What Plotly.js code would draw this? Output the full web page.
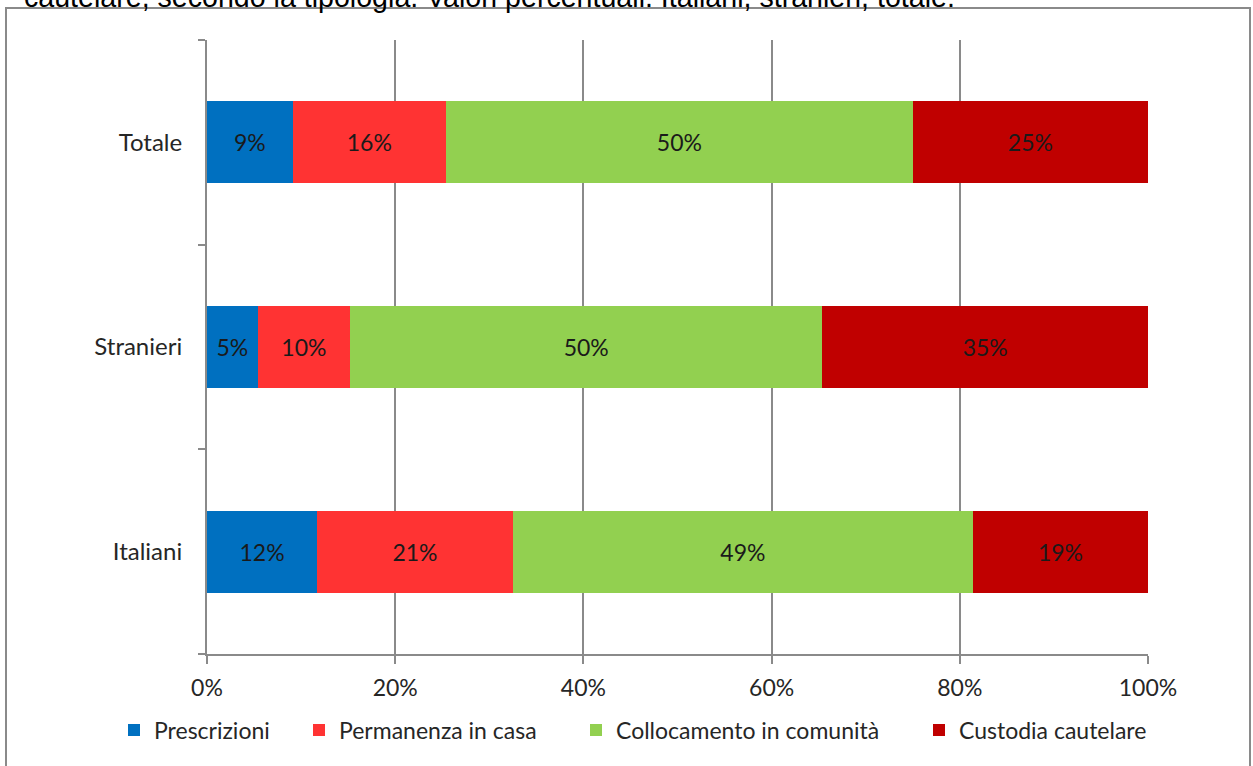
<!DOCTYPE html>
<html>
<head>
<meta charset="utf-8">
<script src="https://cdn.plot.ly/plotly-3.0.1.min.js"></script>
<style>
  html, body { margin: 0; padding: 0; background: #ffffff; }
  #chart { width: 1253px; height: 766px; }
</style>
</head>
<body>
<div id="chart"></div>
<script>
// Categories (bottom to top) and series values (percent)
const categories = ["Italiani", "Stranieri", "Totale"];
const seriesNames = ["Prescrizioni", "Permanenza in casa", "Collocamento in comunità", "Custodia cautelare"];
const prescrizioni = [11.7, 5.4, 9.1];
const permanenza = [20.8, 9.8, 16.3];
const collocamento = [48.9, 50.2, 49.6];
const custodia = [18.6, 34.6, 25.0];
const xTickVals = [0, 20, 40, 60, 80, 100];
const titleText = "cautelare, secondo la tipologia. Valori percentuali. Italiani, stranieri, totale.";

const colors = ["#0070C0", "#FF3333", "#92D050", "#C00000"];
const values = [prescrizioni, permanenza, collocamento, custodia];
const legendIds = ["legend", "legend2", "legend3", "legend4"];

const FONT = "Lato, 'Open Sans', sans-serif";

const traces = values.map((v, i) => ({
  type: "bar",
  orientation: "h",
  name: seriesNames[i],
  y: categories,
  x: v,
  marker: { color: colors[i], line: { width: 0 } },
  texttemplate: "%{x:.0f}%",
  textposition: "inside",
  insidetextanchor: "middle",
  constraintext: "none",
  textangle: 0,
  textfont: { family: FONT, size: 23, color: "#1a1a1a" },
  hoverinfo: "skip",
  legend: legendIds[i]
}));

// plot area: x 207..1148, y 40..654
const W = 1253, H = 766;
const L = 207, R = 1148, T = 40, B = 654;
const pw = R - L, ph = B - T;
const px = x => (x - L) / pw;
const py = y => (B - y) / ph;

// legend marker left positions (pixels)
const legendX = [128, 313, 590, 933];

const legendLayout = {};
legendIds.forEach((id, i) => {
  legendLayout[id] = {
    orientation: "h",
    x: px(legendX[i] - 14),
    xanchor: "left",
    y: py(730),
    yanchor: "middle",
    font: { family: FONT, size: 23, color: "#262626" },
    bgcolor: "rgba(0,0,0,0)",
    borderwidth: 0,
    itemwidth: 30,
    traceorder: "normal"
  };
});

const layout = Object.assign({
  width: W,
  height: H,
  margin: { l: L, r: W - R, t: T, b: H - B, pad: 0 },
  paper_bgcolor: "#ffffff",
  plot_bgcolor: "#ffffff",
  barmode: "stack",
  bargap: 0.6,
  showlegend: true,
  font: { family: FONT, size: 23, color: "#262626" },
  xaxis: {
    range: [0, 100],
    tickvals: xTickVals,
    ticktext: xTickVals.map(v => v + "%"),
    showgrid: true,
    gridcolor: "#8a8a8a",
    gridwidth: 2,
    zeroline: false,
    showline: true,
    linecolor: "#8a8a8a",
    linewidth: 2,
    ticks: "outside",
    ticklen: 8,
    tickwidth: 2,
    tickcolor: "#8a8a8a",
    ticklabelstandoff: 4,
    tickfont: { family: FONT, size: 23, color: "#262626" },
    fixedrange: true
  },
  yaxis: {
    type: "category",
    categoryorder: "array",
    categoryarray: categories,
    range: [-0.5, 2.5],
    showgrid: false,
    zeroline: false,
    showline: true,
    linecolor: "#8a8a8a",
    linewidth: 2,
    ticks: "outside",
    tickson: "boundaries",
    ticklen: 7,
    tickwidth: 2,
    tickcolor: "#8a8a8a",
    ticklabelstandoff: 18,
    tickfont: { family: FONT, size: 24, color: "#262626" },
    fixedrange: true
  },
  shapes: [{
    type: "rect",
    xref: "paper", yref: "paper",
    x0: px(6), x1: px(1250),
    y0: py(780), y1: py(8),
    line: { color: "#8a8a8a", width: 2 },
    fillcolor: "rgba(0,0,0,0)",
    layer: "below"
  }],
  annotations: [{
    xref: "paper", yref: "paper",
    x: px(22), xanchor: "left",
    y: py(-3), yanchor: "middle",
    text: titleText,
    showarrow: false,
    font: { family: "'Liberation Sans', Arial, sans-serif", size: 28.6, color: "#000000" }
  }]
}, legendLayout);

Plotly.newPlot("chart", traces, layout, { displayModeBar: false, staticPlot: true });
</script>
</body>
</html>
